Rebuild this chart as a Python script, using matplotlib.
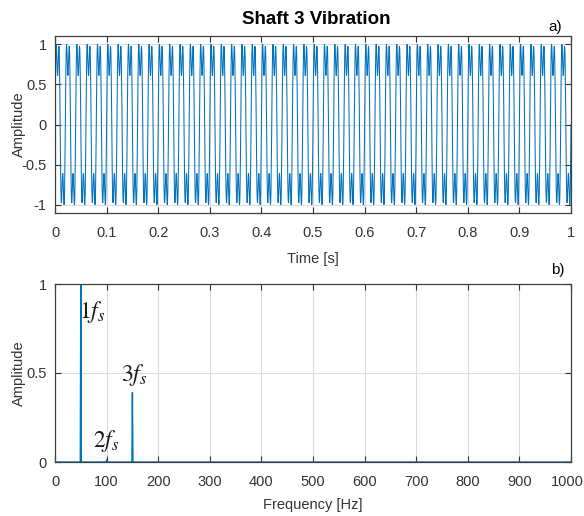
import numpy as np
import matplotlib
matplotlib.use("Agg")
import matplotlib.pyplot as plt
from matplotlib.transforms import ScaledTranslation

# ---- data ----
harmonic_freqs = [50, 100, 150]          # Hz (1fs, 2fs, 3fs)
harmonic_amps = [1.0, 0.012, 0.39]       # normalised amplitudes
harmonic_phases = [0.0, 0.0, 0.0]
sample_rate = 2000                       # Hz
duration = 1.0                           # s
time_ticks = [0, 0.1, 0.2, 0.3, 0.4, 0.5, 0.6, 0.7, 0.8, 0.9, 1]
amp_ticks_a = [-1, -0.5, 0, 0.5, 1]
freq_ticks = [0, 100, 200, 300, 400, 500, 600, 700, 800, 900, 1000]
amp_ticks_b = [0, 0.5, 1]
peak_labels = ["$1f_s$", "$2f_s$", "$3f_s$"]
label_pos = [(47, 0.84), (74, 0.12), (128, 0.49)]

# signal synthesised from harmonic content
t = np.arange(0, duration + 1e-9, 1 / sample_rate)
sig = np.zeros_like(t)
for f, a, p in zip(harmonic_freqs, harmonic_amps, harmonic_phases):
    sig += a * np.sin(2 * np.pi * f * t + p)

N = len(t) - 1
X = np.fft.rfft(sig[:N])
freqs = np.fft.rfftfreq(N, 1 / sample_rate)
spec = 2 * np.abs(X) / N
spec = spec / spec.max()

blue = "#0072BD"
tick_col = "#333333"
plt.rcParams["font.family"] = ["Liberation Sans", "DejaVu Sans"]
plt.rcParams["mathtext.fontset"] = "stix"

fig = plt.figure(figsize=(5.84, 5.16), dpi=100)
W, H = 584, 516
ax1 = fig.add_axes([55 / W, 1 - 213 / H, (571 - 55) / W, (213 - 36) / H])
ax2 = fig.add_axes([55 / W, 1 - 462 / H, (571 - 55) / W, (462 - 284) / H])

ax1.plot(t, sig, color=blue, lw=0.75)
ax1.set_xlim(0, 1)
ax1.set_ylim(-1.1, 1.1)
ax1.set_xticks(time_ticks)
ax1.set_xticklabels([f"{v:g}" for v in time_ticks])
ax1.set_yticks(amp_ticks_a)
ax1.set_yticklabels([f"{v:g}" for v in amp_ticks_a])
ax1.set_xlabel("Time [s]", fontsize=10.5, color=tick_col, labelpad=9)
ax1.set_ylabel("Amplitude", fontsize=10.5, color=tick_col)
fig.text(316 / W, 1 - 19 / H, "Shaft 3 Vibration", fontsize=13.5,
         fontweight="bold", ha="center", va="center")
fig.text(548 / W, 1 - 27 / H, "a)", fontsize=11, va="center")

ax2.plot(freqs, spec, color=blue, lw=1.0)
ax2.set_xlim(0, 1000)
ax2.set_ylim(0, 1)
ax2.set_xticks(freq_ticks)
ax2.set_yticks(amp_ticks_b)
ax2.set_yticklabels([f"{v:g}" for v in amp_ticks_b])
ax2.set_xlabel("Frequency [Hz]", fontsize=10.5, color=tick_col, labelpad=7)
ax2.set_ylabel("Amplitude", fontsize=10.5, color=tick_col)
fig.text(551 / W, 1 - 270 / H, "b)", fontsize=11, va="center")
for lab, (x, y) in zip(peak_labels, label_pos):
    ax2.text(x, y, lab, fontsize=17, ha="left", va="center", color="#1a1a1a")

for ax in (ax1, ax2):
    ax.grid(True, color="#dcdcdc", lw=0.8)
    ax.set_axisbelow(True)
    ax.tick_params(direction="in", top=True, right=True, length=4,
                   labelsize=10.5, colors=tick_col)
    ax.tick_params(axis="x", pad=9)
    ax.tick_params(axis="y", pad=6)
    ax.yaxis.set_label_coords(-0.056, 0.5)
    for s in ax.spines.values():
        s.set_color("#404040")
        s.set_linewidth(0.9)

# keep the last frequency tick label inside the canvas
fig.canvas.draw()
last = ax2.get_xticklabels()[-1]
last.set_transform(last.get_transform() + ScaledTranslation(-4 / 100, 0, fig.dpi_scale_trans))

fig.savefig("out.png", dpi=100)
